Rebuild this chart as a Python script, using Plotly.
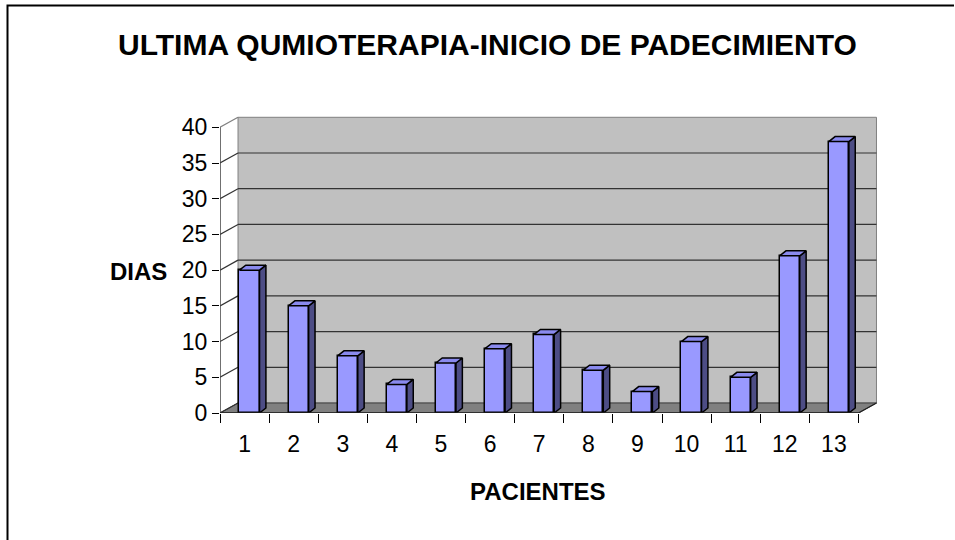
import plotly.graph_objects as go

# ---- data ----
pacientes = [1, 2, 3, 4, 5, 6, 7, 8, 9, 10, 11, 12, 13]
dias = [20, 15, 8, 4, 7, 9, 11, 6, 3, 10, 5, 22, 38]
y_ticks = [0, 5, 10, 15, 20, 25, 30, 35, 40]
title_text = "ULTIMA QUMIOTERAPIA-INICIO DE PADECIMIENTO"
x_title = "PACIENTES"
y_title = "DIAS"

# ---- geometry (layout) ----
W, H = 955, 540
ML, MR, MT, MB = 220, 72, 113, 127
PW, PH = W - ML - MR, H - MT - MB
XR = [0.5, 14.0]
YR = [0, 42]
x_lo, x_hi = 0.5, 13.5
y_top = 40
# 3D depth offsets of the wall (data units)
DX, DY = 0.367, 1.4
# bar geometry
BW = 0.41
BOFF = 0.10
bdx, bdy = 0.13, 0.7

FONT = "Liberation Sans, Arial, sans-serif"


def px_x(px):
    return (px - ML) / PW


def px_y(py):
    return (H - MB - py) / PH


fig = go.Figure()

# front faces of the bars
fig.add_trace(go.Bar(
    x=pacientes, y=dias, width=BW, offset=BOFF - BW / 2,
    marker=dict(color="#9999FF", line=dict(color="#000000", width=1.5)),
    hoverinfo="x+y", showlegend=False,
))

# side and top faces
sx, sy, tx, ty = [], [], [], []
for c, v in zip(pacientes, dias):
    x0 = c + BOFF - BW / 2
    x1 = x0 + BW
    sx += [x1, x1 + bdx, x1 + bdx, x1, x1, None]
    sy += [0, bdy, v + bdy, v, 0, None]
    tx += [x0, x1, x1 + bdx, x0 + bdx, x0, None]
    ty += [v, v, v + bdy, v + bdy, v, None]

fig.add_trace(go.Scatter(
    x=sx, y=sy, mode="lines", fill="toself", fillcolor="#4D4D85",
    line=dict(color="#000000", width=1.5), hoverinfo="skip", showlegend=False,
))
fig.add_trace(go.Scatter(
    x=tx, y=ty, mode="lines", fill="toself", fillcolor="#8A8AEE",
    line=dict(color="#000000", width=1.5), hoverinfo="skip", showlegend=False,
))

shapes = []
# back wall
shapes.append(dict(type="rect", xref="x", yref="y", layer="below",
                   x0=x_lo + DX, x1=x_hi + DX, y0=DY, y1=y_top + DY,
                   fillcolor="#C0C0C0", line=dict(color="#808080", width=1)))
# floor
shapes.append(dict(type="path", xref="x", yref="y", layer="below",
                   path=f"M {x_lo},0 L {x_hi},0 L {x_hi + DX},{DY} L {x_lo + DX},{DY} Z",
                   fillcolor="#808080", line=dict(color="#404040", width=1)))
# grid lines on back wall and diagonals on the side wall
for v in y_ticks:
    if 0 < v < y_top:
        shapes.append(dict(type="line", xref="x", yref="y", layer="below",
                           x0=x_lo + DX, x1=x_hi + DX, y0=v + DY, y1=v + DY,
                           line=dict(color="#333333", width=1.2)))
    shapes.append(dict(type="line", xref="x", yref="y", layer="below",
                       x0=x_lo, x1=x_lo + DX, y0=v, y1=v + DY,
                       line=dict(color="#333333" if v < y_top else "#808080", width=1.2)))
# front y axis line
shapes.append(dict(type="line", xref="x", yref="y",
                   x0=x_lo, x1=x_lo, y0=0, y1=y_top,
                   line=dict(color="#404040", width=1.5)))
# front x axis line
shapes.append(dict(type="line", xref="x", yref="y",
                   x0=x_lo, x1=x_hi, y0=0, y1=0,
                   line=dict(color="#202020", width=1.5)))
# floor right edge
shapes.append(dict(type="line", xref="x", yref="y",
                   x0=x_hi, x1=x_hi + DX, y0=0, y1=DY,
                   line=dict(color="#202020", width=1.2)))
# chart border (left & top visible)
shapes.append(dict(type="path", xref="paper", yref="paper",
                   path=(f"M {px_x(7.5)},{px_y(545)} L {px_x(7.5)},{px_y(5.5)} "
                         f"L {px_x(954)},{px_y(5.5)}"),
                   line=dict(color="#000000", width=2)))

annotations = [
    dict(text=title_text, xref="paper", yref="paper", x=px_x(487), y=px_y(44),
         showarrow=False, xanchor="center", yanchor="middle",
         font=dict(family=FONT, size=30, color="#000000", weight="bold")),
    dict(text=y_title, xref="paper", yref="paper", x=px_x(138), y=px_y(271),
         showarrow=False, xanchor="center", yanchor="middle",
         font=dict(family=FONT, size=24, color="#000000", weight="bold")),
    dict(text=x_title, xref="paper", yref="paper", x=px_x(538), y=px_y(491),
         showarrow=False, xanchor="center", yanchor="middle",
         font=dict(family=FONT, size=24, color="#000000", weight="bold")),
]

fig.update_layout(
    width=W, height=H,
    margin=dict(l=ML, r=MR, t=MT, b=MB, pad=0),
    paper_bgcolor="#FFFFFF", plot_bgcolor="rgba(0,0,0,0)",
    showlegend=False,
    shapes=shapes, annotations=annotations,
    font=dict(family=FONT, color="#000000"),
    xaxis=dict(range=XR, tickvals=pacientes, ticktext=[str(p) for p in pacientes],
               ticks="outside", ticklen=10, tickcolor="rgba(0,0,0,0)",
               showgrid=False, zeroline=False, showline=False,
               tickfont=dict(family=FONT, size=23, color="#000000")),
    xaxis2=dict(range=XR, overlaying="x", anchor="y", side="bottom",
                tickvals=[p - 0.5 for p in pacientes] + [pacientes[-1] + 0.5],
                ticks="outside", ticklen=9, tickcolor="#000000", tickwidth=1,
                showticklabels=False, showgrid=False, zeroline=False, showline=False),
    yaxis=dict(range=YR, tickvals=y_ticks, ticks="outside", ticklen=7,
               tickcolor="#000000", tickwidth=1,
               showgrid=False, zeroline=False, showline=False,
               tickfont=dict(family=FONT, size=23, color="#000000")),
    bargap=0,
)

# invisible trace to activate xaxis2 ticks
fig.add_trace(go.Scatter(x=[XR[0]], y=[0], xaxis="x2", mode="markers",
                         marker=dict(opacity=0), hoverinfo="skip", showlegend=False))

fig.write_html("out.html", config={"displayModeBar": False},
               post_script="document.body.style.margin='0';"
                           "document.body.style.overflow='hidden';")
